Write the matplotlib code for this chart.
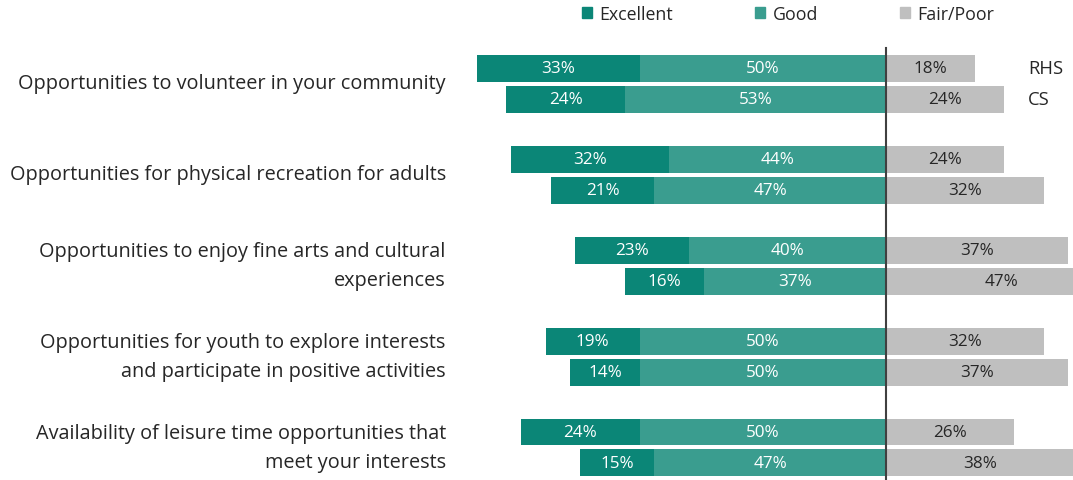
import matplotlib.pyplot as plt
import numpy as np

plt.rcParams['font.family'] = ['Open Sans', 'DejaVu Sans']

# survey items (top to bottom)
items = [
    'Opportunities to volunteer in your community',
    'Opportunities for physical recreation for adults',
    'Opportunities to enjoy fine arts and cultural\nexperiences',
    'Opportunities for youth to explore interests\nand participate in positive activities',
    'Availability of leisure time opportunities that\nmeet your interests',
]
surveys = ['RHS', 'CS']

# percentages, per item: [RHS, CS]
excellent = [[33, 24], [32, 21], [23, 16], [19, 14], [24, 15]]
good = [[50, 53], [44, 47], [40, 37], [50, 50], [50, 47]]
fair_poor = [[18, 24], [24, 32], [37, 47], [32, 37], [26, 38]]

c_exc = '#0b8677'
c_good = '#3a9d8f'
c_fair = '#bfbfbf'
txt = '#262626'

fig = plt.figure(figsize=(10.73, 4.81), dpi=100)
ax = fig.add_axes([0, 0, 1, 1])

bar_h = 27 / 91
offset = 31 / 91

for i in range(len(items)):
    for j in range(2):
        y = i + j * offset
        e = excellent[i][j]
        g = good[i][j]
        f = fair_poor[i][j]
        ax.barh(y, e, left=-(e + g), height=bar_h, color=c_exc, linewidth=0)
        ax.barh(y, g, left=-g, height=bar_h, color=c_good, linewidth=0)
        ax.barh(y, f, left=0, height=bar_h, color=c_fair, linewidth=0)
        ax.text(-(g + e / 2), y, f'{e}%', ha='center', va='center',
                color='white', fontsize=12.3)
        ax.text(-g / 2, y, f'{g}%', ha='center', va='center',
                color='white', fontsize=12.3)
        ax.text(f / 2, y, f'{f}%', ha='center', va='center',
                color=txt, fontsize=12.3)
    ax.text(-89.3, i + offset / 2, items[i], ha='right', va='center',
            multialignment='right', fontsize=14.3, color=txt, linespacing=1.6)

# survey labels next to the first pair
for j, s in enumerate(surveys):
    ax.text(28.8, j * offset, s, ha='left', va='center', fontsize=13.3,
            color=txt)

ax.axvline(0, ymin=0, ymax=1 - 49 / 481, color='#404040', linewidth=1.5)

ax.set_xlim(-886 / 4.93, 187 / 4.93)
ax.set_ylim((481 - 69) / 91, -69 / 91)
ax.axis('off')

handles = [plt.Rectangle((0, 0), 1, 1, color=c) for c in (c_exc, c_good, c_fair)]
fig.legend(handles, ['Excellent', 'Good', 'Fair/Poor'], ncol=3,
           loc='center', bbox_to_anchor=(788 / 1073, 1 - 15 / 481),
           frameon=False, fontsize=12.8, handlelength=0.6, handleheight=0.6,
           handletextpad=0.4, columnspacing=4.6, labelcolor=txt)

fig.savefig('out.png', dpi=100)
